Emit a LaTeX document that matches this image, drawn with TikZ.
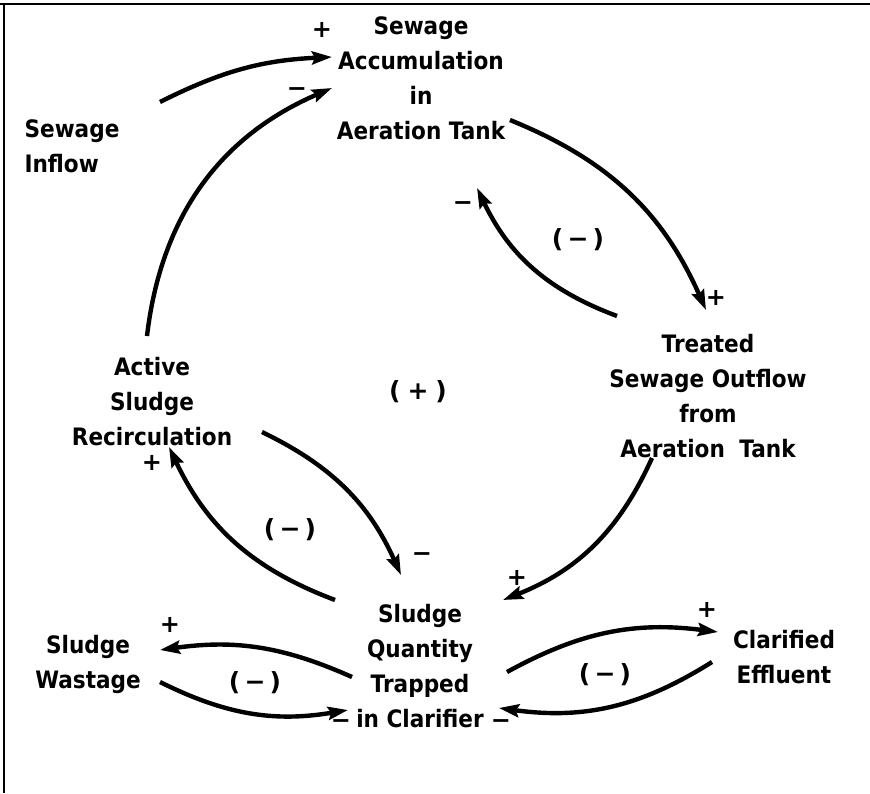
\documentclass[tikz,border=0pt]{standalone}
\usepackage{fontspec}
\usetikzlibrary{arrows.meta}
\newfontfamily\diagfont{DejaVu Sans}[FakeStretch=0.9]
\newfontfamily\signfont{DejaVu Sans}
\begin{document}
\begin{tikzpicture}[x=1pt,y=-1pt,
  lbl/.style={font=\diagfont\bfseries\fontsize{24}{35}\selectfont, align=center, inner sep=0pt},
  sgn/.style={font=\signfont\bfseries\fontsize{24}{24}\selectfont, inner sep=0pt},
  loopsign/.style={font=\signfont\bfseries\fontsize{25}{25}\selectfont, inner sep=0pt},
  link/.style={line width=4.4pt, -{Stealth[length=20pt,width=13pt,inset=3pt]}},
  frameline/.style={line width=2.8pt}]

\useasboundingbox (0,0) rectangle (870,793);

% frame edges (top and left only)
\draw[frameline] (0,4) -- (870,4);
\draw[frameline] (4,4) -- (4,793);

% variables
\node[lbl] (acc) at (421,78) {Sewage\\Accumulation\\in\\Aeration Tank};
\node[lbl, align=left] (inflow) at (72,146) {Sewage\\Inflow};
\node[lbl] (treated) at (708,396) {Treated\\Sewage Outflow\\from\\Aeration\hspace{0.6em}Tank};
\node[lbl] (recirc) at (152,402) {Active\\Sludge\\Recirculation};
\node[lbl] (trapped) at (420,666) {Sludge\\Quantity\\Trapped\\in Clarifier};
\node[lbl] (wastage) at (88,664) {Sludge\\Wastage};
\node[lbl] (effluent) at (784,657) {Clarified\\Effluent};

% loop polarities
\node[loopsign] (loopmain) at (418,392) {(\;+\;)};
\node[loopsign] (looptank) at (578,240) {(\,−\,)};
\node[loopsign] (looprec) at (290,530) {(\,−\,)};
\node[loopsign] (loopwaste) at (255,683) {(\,−\,)};
\node[loopsign] (loopeff) at (605,675) {(\,−\,)};

% connector end points
\coordinate (inflowA) at (160,102);
\coordinate (accA) at (332,57);
\coordinate (recircA) at (147,336);
\coordinate (accB) at (332,88);
\coordinate (accC) at (510,120);
\coordinate (treatedA) at (706,310);
\coordinate (treatedB) at (617,316);
\coordinate (accD) at (477,188);
\coordinate (recircB) at (262,432);
\coordinate (trappedA) at (401,575);
\coordinate (trappedB) at (335,600);
\coordinate (recircC) at (169,447);
\coordinate (treatedC) at (652,458);
\coordinate (trappedC) at (503,600);
\coordinate (trappedD) at (352,677);
\coordinate (wastageA) at (160,650);
\coordinate (wastageB) at (160,682);
\coordinate (trappedE) at (348,710);
\coordinate (trappedF) at (507,672);
\coordinate (effluentA) at (718,632);
\coordinate (effluentB) at (712,662);
\coordinate (trappedG) at (499,708);

% causal links
\draw[link] (inflowA) to[bend left=12] (accA);
\draw[link] (recircA) to[bend left=30] (accB);
\draw[link] (accC) to[bend left=22] (treatedA);
\draw[link] (treatedB) to[bend left=22] (accD);
\draw[link] (recircB) to[bend left=20] (trappedA);
\draw[link] (trappedB) to[bend left=22] (recircC);
\draw[link] (treatedC) to[bend left=22] (trappedC);
\draw[link] (trappedD) to[bend right=16] (wastageA);
\draw[link] (wastageB) to[bend right=18] (trappedE);
\draw[link] (trappedF) to[bend left=18] (effluentA);
\draw[link] (effluentB) to[bend left=20] (trappedG);

% link polarities
\node[sgn] (s1) at (322,30) {+};
\node[sgn] (s2) at (297,92) {−};
\node[sgn] (s3) at (716,298) {+};
\node[sgn] (s4) at (463,206) {−};
\node[sgn] (s5) at (152,463) {+};
\node[sgn] (s6) at (422,557) {−};
\node[sgn] (s7) at (517,578) {+};
\node[sgn] (s8) at (170,625) {+};
\node[sgn] (s9) at (341,724) {−};
\node[sgn] (s10) at (707,610) {+};
\node[sgn] (s11) at (501,724) {−};
\end{tikzpicture}
\end{document}
